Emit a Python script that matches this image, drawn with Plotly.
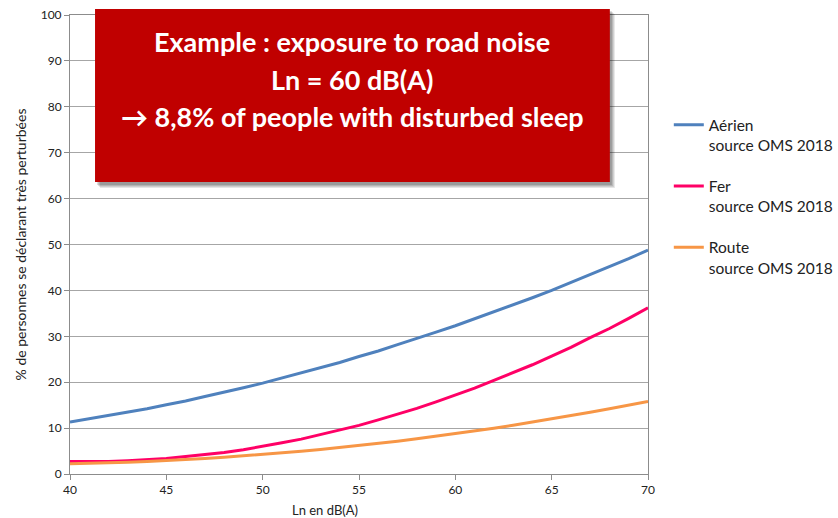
import plotly.graph_objects as go

# Night noise level Ln (dB(A)) and share of people highly sleep-disturbed (%)
ln_db = list(range(40, 71))

aerien = [11.3, 12.0, 12.7, 13.4, 14.2, 15.1, 15.9, 16.9, 17.8, 18.8,
          19.8, 20.9, 22.0, 23.2, 24.3, 25.6, 26.8, 28.2, 29.5, 30.9,
          32.3, 33.8, 35.3, 36.8, 38.4, 40.0, 41.7, 43.4, 45.2, 46.9, 48.8]

fer = [2.7, 2.7, 2.7, 2.9, 3.1, 3.4, 3.8, 4.2, 4.7, 5.3,
       6.0, 6.8, 7.6, 8.6, 9.6, 10.6, 11.8, 13.0, 14.3, 15.7,
       17.2, 18.7, 20.4, 22.1, 23.8, 25.7, 27.6, 29.7, 31.7, 33.9, 36.2]

route = [2.25, 2.33, 2.45, 2.58, 2.75, 2.93, 3.15, 3.39, 3.65, 3.94,
         4.25, 4.59, 4.95, 5.34, 5.76, 6.20, 6.66, 7.15, 7.67, 8.21,
         8.78, 9.37, 9.98, 10.62, 11.29, 11.98, 12.70, 13.44, 14.21, 15.00, 15.82]

series_names = ["Aérien<br>source OMS 2018", "Fer<br>source OMS 2018", "Route<br>source OMS 2018"]
series_values = [aerien, fer, route]
series_colors = ["#4F81BD", "#FF0066", "#F79646"]

x_ticks = [40, 45, 50, 55, 60, 65, 70]
y_ticks = [0, 10, 20, 30, 40, 50, 60, 70, 80, 90, 100]

callout_lines = [
    "Example : exposure to road noise",
    "Ln = 60 dB(A)",
    "\u2192 8,8% of people with disturbed sleep",
]

FONT = "Lato"
fig = go.Figure()

for i, (name, vals, col) in enumerate(zip(series_names, series_values, series_colors)):
    fig.add_trace(go.Scatter(
        x=ln_db, y=vals, mode="lines", name=name,
        legendgroup=f"g{i}",
        line=dict(color=col, width=3),
    ))

# Red callout box with a soft drop shadow
box = dict(x0=0.0433, x1=0.934, y0=0.636, y1=1.0131)
for k, op in enumerate([0.10, 0.10, 0.12, 0.14]):
    d = 4 - k
    fig.add_shape(type="rect", xref="paper", yref="paper",
                  x0=box["x0"] + (d + 1) / 578, x1=box["x1"] + (d + 1) / 578,
                  y0=box["y0"] - (d + 2) / 459, y1=box["y1"] - (d + 1) / 459,
                  fillcolor="black", opacity=op, line=dict(width=0), layer="above")
fig.add_shape(type="rect", xref="paper", yref="paper",
              x0=box["x0"], x1=box["x1"], y0=box["y0"], y1=box["y1"],
              fillcolor="#C00000", line=dict(width=0), layer="above")

for txt, yy in zip(callout_lines, [0.943, 0.860, 0.779]):
    fig.add_annotation(text=f"<b>{txt}</b>", xref="paper", yref="paper",
                       x=(box["x0"] + box["x1"]) / 2, y=yy,
                       xanchor="center", yanchor="middle", showarrow=False,
                       font=dict(family=FONT, size=27, color="white"))

# x-axis title
fig.add_annotation(text="Ln en dB(A)", xref="paper", yref="paper",
                   x=0.441, y=-0.078, xanchor="center", yanchor="middle",
                   showarrow=False, font=dict(family=FONT, size=13, color="#222222"))

fig.update_layout(
    width=838, height=518,
    margin=dict(l=70, r=190, t=15, b=44, autoexpand=False),
    paper_bgcolor="white", plot_bgcolor="white",
    font=dict(family=FONT, size=12, color="#333333"),
    showlegend=True,
    legend=dict(x=1.036, xanchor="left", y=0.797, yanchor="top",
                valign="top", tracegroupgap=18,
                font=dict(family=FONT, size=15.5, color="#222222"),
                bgcolor="rgba(0,0,0,0)"),
    xaxis=dict(range=[40, 70], tickvals=x_ticks, showgrid=False,
               showline=True, linecolor="#8c8c8c", linewidth=1, mirror=True,
               ticks="outside", ticklen=5, tickcolor="#8c8c8c",
               tickfont=dict(family=FONT, size=12, color="#222222"),
               zeroline=False, fixedrange=True, automargin=False),
    yaxis=dict(range=[0, 100], tickvals=y_ticks, showgrid=True,
               gridcolor="#a6a6a6", gridwidth=1,
               showline=True, linecolor="#8c8c8c", linewidth=1, mirror=True,
               ticks="outside", ticklen=5, tickcolor="#8c8c8c",
               tickfont=dict(family=FONT, size=12, color="#222222"),
               title=dict(text="% de personnes se déclarant très perturbées",
                          font=dict(family=FONT, size=14, color="#222222"),
                          standoff=10),
               zeroline=False, fixedrange=True, automargin=False),
)

fig.write_html("out.html")
